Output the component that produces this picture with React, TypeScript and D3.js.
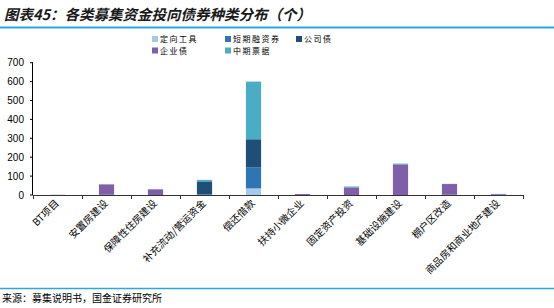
import React from "react";
import * as d3 from "d3";

const categories = ["BT项目", "安置房建设", "保障性住房建设", "补充流动/营运资金", "偿还借款", "扶持小微企业", "固定资产投资", "基础设施建设", "棚户区改造", "商品房和商业地产建设"];
const seriesNames = ["定向工具", "短期融资券", "公司债", "企业债", "中期票据"];
const seriesColors = ["#a6c8ec", "#2e75b6", "#1f4e79", "#7f60a8", "#4bacc6"];
const dingxiang = [0, 0, 0, 2, 35, 0, 0, 0, 0, 0];
const duanqi = [0, 0, 0, 0, 110, 0, 0, 0, 0, 0];
const gongsi = [0, 2, 0, 70, 150, 0, 0, 0, 2, 0];
const qiye = [1, 54, 30, 0, 0, 5, 40, 162, 56, 4];
const zhongqi = [0, 1, 0, 8, 305, 0, 5, 4, 1, 2];
const yTicks = [0, 100, 200, 300, 400, 500, 600, 700];

export default function App() {
  const W = 554, H = 308;
  const x = d3.scaleBand().domain(categories).range([33, 523]).paddingInner(0.69).paddingOuter(0.345);
  const y = d3.scaleLinear().domain([0, 700]).range([195, 62.7]);
  const table = categories.map((c, i) => ({ c, s0: dingxiang[i], s1: duanqi[i], s2: gongsi[i], s3: qiye[i], s4: zhongqi[i] }));
  const stack = d3.stack<any>().keys(["s0", "s1", "s2", "s3", "s4"])(table);
  const step = x.step();
  const font = "'Liberation Sans', Arial, sans-serif";
  const cjk = "'Noto Sans CJK SC', sans-serif";
  const legendPos = [[152, 42], [225, 42], [296, 42], [152, 53.5], [225, 53.5]];
  return (
    <svg width={W} height={H} style={{ position: "absolute", left: 0, top: 0, background: "#fff" }}>
      <text x={4} y={20} fontFamily={cjk} fontSize={14.5} fontWeight="bold" fontStyle="italic" fill="#1a1a1a">图表45：各类募集资金投向债券种类分布（个）</text>
      <line x1={0} x2={554} y1={27.5} y2={27.5} stroke="#2aa7df" strokeWidth={2} />
      {stack.map((layer, k) => (
        <g key={k} fill={seriesColors[k]}>
          {layer.map((d, i) => {
            const h = y(d[0]) - y(d[1]);
            if (h <= 0) return null;
            return <rect key={i} x={x(categories[i])} y={y(d[1])} width={x.bandwidth()} height={h} />;
          })}
        </g>
      ))}
      <line x1={32.5} x2={32.5} y1={y(700)} y2={195} stroke="#000" strokeWidth={1} />
      {yTicks.map(t => (
        <g key={t}>
          <line x1={30} x2={33} y1={y(t)} y2={y(t)} stroke="#000" />
          <text x={24} y={y(t) + 3.5} textAnchor="end" fontFamily={font} fontSize={10} fill="#000">{t}</text>
        </g>
      ))}
      <line x1={33} x2={523} y1={195.5} y2={195.5} stroke="#333" strokeWidth={1} />
      {d3.range(categories.length + 1).map(k => (
        <line key={k} x1={33 + step * k + 0.5} x2={33 + step * k + 0.5} y1={195} y2={199} stroke="#333" />
      ))}
      {categories.map(c => {
        const cx = (x(c) as number) + x.bandwidth() / 2 + 2;
        return (
          <text key={c} transform={`translate(${cx},${204}) rotate(-45)`} textAnchor="end" fontFamily={cjk} fontSize={10} fill="#000">{c}</text>
        );
      })}
      {seriesNames.map((n, k) => (
        <g key={n}>
          <rect x={legendPos[k][0]} y={legendPos[k][1] - 6} width={6} height={6} fill={seriesColors[k]} />
          <text x={legendPos[k][0] + 8} y={legendPos[k][1]} fontFamily={cjk} fontSize={8} letterSpacing={1.5} fill="#000">{n}</text>
        </g>
      ))}
      <line x1={0} x2={554} y1={288.5} y2={288.5} stroke="#2aa7df" strokeWidth={1.5} />
      <text x={2} y={302} fontFamily={cjk} fontSize={10} fill="#000">来源：募集说明书，国金证券研究所</text>
    </svg>
  );
}
